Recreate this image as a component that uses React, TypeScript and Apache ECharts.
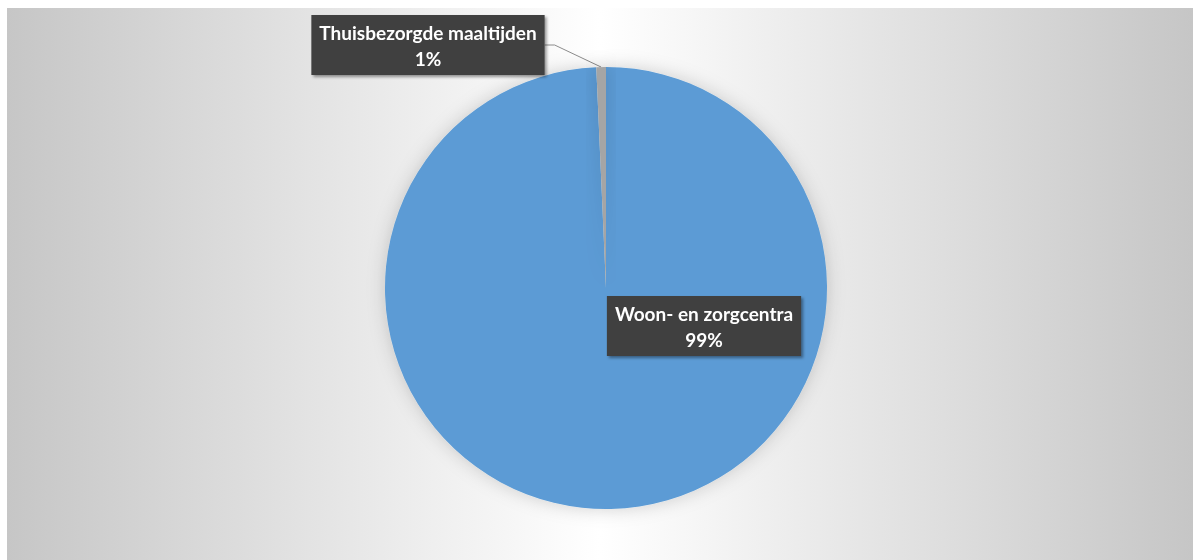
import React, { useEffect, useRef } from "react";
import * as echarts from "echarts";

const categories = ["Woon- en zorgcentra", "Thuisbezorgde maaltijden"];
const values = [99.3, 0.7];
const shownPercents = [99, 1];
const colors = ["#5b9bd5", "#a5a5a5"];

export default function App() {
  const ref = useRef<HTMLDivElement>(null);
  useEffect(() => {
    if (!ref.current) return;
    const chart = echarts.init(ref.current, null, { renderer: "svg" });
    chart.setOption({
      animation: false,
      graphic: [
        {
          type: "rect",
          z: -10,
          shape: { x: 7, y: 8, width: 1186, height: 552 },
          style: {
            fill: new echarts.graphic.LinearGradient(0, 0, 1, 0, [
              { offset: 0, color: "#c6c6c6" },
              { offset: 0.5, color: "#ffffff" },
              { offset: 1, color: "#c6c6c6" },
            ]),
          },
        },
      ],
      series: [
        {
          type: "pie",
          center: [606, 288],
          radius: 221,
          startAngle: 90,
          clockwise: true,
          data: categories.map((c, i) => ({
            name: c,
            value: values[i],
            itemStyle: { color: colors[i] },
          })),
          itemStyle: {
            shadowBlur: 18,
            shadowColor: "rgba(0,0,0,0.18)",
          },
          label: {
            show: true,
            position: "outside",
            formatter: (p: any) => `${p.name}\n${shownPercents[p.dataIndex]}%`,
            color: "#ffffff",
            fontFamily: "Lato",
            fontWeight: "bold",
            fontSize: 19,
            lineHeight: 26,
            align: "center",
            backgroundColor: "#3f3f3f",
            padding: [4, 8],
            shadowBlur: 3,
            shadowOffsetX: 2,
            shadowOffsetY: 2,
            shadowColor: "rgba(0,0,0,0.4)",
          },
          labelLine: {
            show: true,
            lineStyle: { color: "#8c8c8c", width: 1 },
            length: 10,
            length2: 10,
          },
          labelLayout: (params: any) =>
            params.dataIndex === 0
              ? { x: 704, y: 326, align: "center", verticalAlign: "middle" }
              : { x: 428, y: 45, align: "center", verticalAlign: "middle" },
          emphasis: { disabled: true },
        },
      ],
    });
    return () => chart.dispose();
  }, []);
  return (
    <div
      ref={ref}
      style={{ position: "fixed", left: 0, top: 0, width: 1193, height: 560 }}
    />
  );
}
